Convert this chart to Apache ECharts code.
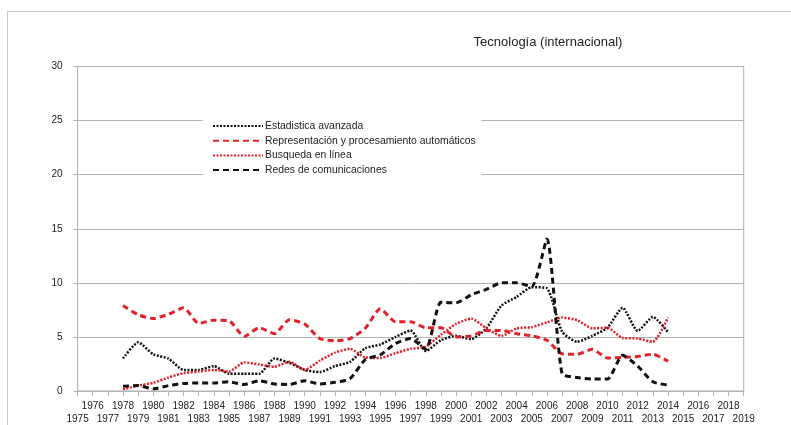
<!DOCTYPE html>
<html>
<head>
<meta charset="utf-8">
<script src="https://cdn.jsdelivr.net/npm/echarts@6/dist/echarts.min.js"></script>
<style>
  html, body { margin: 0; padding: 0; background: #fff; }
  #chart { width: 791px; height: 425px; }
</style>
</head>
<body>
<div id="chart"></div>
<script>
// axis categories (every year shown on the axis)
const axisYears = ['1975', '1976', '1977', '1978', '1979', '1980', '1981', '1982', '1983', '1984',
  '1985', '1986', '1987', '1988', '1989', '1990', '1991', '1992', '1993', '1994',
  '1995', '1996', '1997', '1998', '1999', '2000', '2001', '2002', '2003', '2004',
  '2005', '2006', '2007', '2008', '2009', '2010', '2011', '2012', '2013', '2014',
  '2015', '2016', '2017', '2018', '2019'];

// years that have data
const dataYears = ['1978', '1979', '1980', '1981', '1982', '1983', '1984', '1985', '1986', '1987',
  '1988', '1989', '1990', '1991', '1992', '1993', '1994', '1995', '1996', '1997',
  '1998', '1999', '2000', '2001', '2002', '2003', '2004', '2005', '2006', '2007',
  '2008', '2009', '2010', '2011', '2012', '2013', '2014'];

const estadistica = [3.0, 4.5, 3.4, 3.0, 1.95, 1.95, 2.3, 1.6, 1.6, 1.6,
  3.0, 2.6, 1.95, 1.75, 2.3, 2.7, 3.95, 4.3, 5.0, 5.6,
  3.7, 4.7, 5.1, 4.8, 5.8, 7.9, 8.7, 9.6, 9.5, 5.5,
  4.55, 5.1, 5.85, 7.7, 5.55, 6.85, 5.45];

const representacion = [7.9, 7.05, 6.7, 7.1, 7.7, 6.25, 6.55, 6.5, 5.05, 5.85,
  5.3, 6.6, 6.2, 4.85, 4.65, 4.85, 5.8, 7.6, 6.4, 6.4,
  5.85, 5.85, 5.0, 5.1, 5.6, 5.6, 5.3, 5.1, 4.7, 3.45,
  3.4, 3.85, 3.05, 3.1, 3.2, 3.4, 2.75];

const busqueda = [0.15, 0.5, 0.75, 1.25, 1.65, 1.8, 1.95, 1.8, 2.65, 2.45,
  2.25, 2.7, 1.95, 2.8, 3.55, 3.9, 3.1, 3.05, 3.5, 3.9,
  4.1, 5.2, 6.2, 6.7, 5.8, 5.1, 5.8, 5.9, 6.35, 6.8,
  6.55, 5.8, 5.85, 4.9, 4.85, 4.55, 6.8];

const redes = [0.45, 0.5, 0.2, 0.5, 0.7, 0.75, 0.75, 0.85, 0.6, 0.95,
  0.65, 0.6, 0.95, 0.65, 0.8, 1.15, 2.9, 3.35, 4.4, 4.85,
  3.85, 8.2, 8.15, 8.9, 9.4, 10.0, 10.0, 9.65, 14.05, 1.6,
  1.25, 1.1, 1.1, 3.3, 2.3, 0.85, 0.55];

const chart = echarts.init(document.getElementById('chart'));

const font = '"Liberation Sans", Arial, sans-serif';
const gridColor = '#b3b3b3';
const red = '#e3202a';

const pairs = (vals) => dataYears.map((y, i) => [y, vals[i]]);

const mkLine = (name, vals, color, width, dash) => ({
  name,
  type: 'line',
  data: pairs(vals),
  symbol: 'none',
  smooth: 0.2,
  lineStyle: { color, width, type: dash, cap: 'butt' },
  itemStyle: { color }
});

chart.setOption({
  animation: false,
  backgroundColor: '#fff',
  textStyle: { fontFamily: font },
  graphic: [{
    type: 'rect',
    shape: { x: 7.5, y: 11.5, width: 820, height: 440 },
    style: { fill: 'none', stroke: '#c4c4c4', lineWidth: 1 },
    silent: true,
    z: -1
  }],
  title: {
    text: 'Tecnología (internacional)',
    left: 543,
    top: 31,
    textAlign: 'center',
    textStyle: { fontFamily: font, fontSize: 13, fontWeight: 'normal', color: '#222' }
  },
  legend: {
    orient: 'vertical',
    left: 203,
    top: 115,
    padding: [6, 6, 6, 9],
    backgroundColor: '#fff',
    itemWidth: 50,
    itemHeight: 12,
    itemGap: 4.7,
    itemStyle: { opacity: 0 },
    textStyle: { fontFamily: font, fontSize: 10.4, color: '#222', padding: [0, 0, 0, -3] },
    data: ['Estadistica avanzada', 'Representación y procesamiento automáticos',
      'Busqueda en línea', 'Redes de comunicaciones']
  },
  grid: {
    left: 77.6,
    right: 47.3,
    top: 66.6,
    bottom: 32,
    show: true,
    borderColor: gridColor,
    borderWidth: 1
  },
  xAxis: {
    type: 'category',
    data: axisYears,
    boundaryGap: false,
    axisLine: { lineStyle: { color: gridColor } },
    axisTick: { show: true, interval: 0, length: 5, lineStyle: { color: gridColor } },
    axisLabel: {
      interval: 0,
      margin: 9,
      color: '#222',
      fontSize: 10,
      lineHeight: 12.5,
      formatter: (v) => (Number(v) % 2 ? '\n' + v : v)
    },
    splitLine: { show: false }
  },
  yAxis: {
    type: 'value',
    min: 0,
    max: 30,
    interval: 5,
    axisLine: { show: true, lineStyle: { color: gridColor } },
    axisTick: { show: true, length: 4, lineStyle: { color: gridColor } },
    axisLabel: { color: '#222', fontSize: 10, margin: 15 },
    splitLine: { lineStyle: { color: gridColor, width: 1 } }
  },
  series: [
    mkLine('Estadistica avanzada', estadistica, '#111', 2.5, [2, 1.5]),
    mkLine('Representación y procesamiento automáticos', representacion, red, 3, [6, 4]),
    mkLine('Busqueda en línea', busqueda, red, 2.5, [2, 1.5]),
    mkLine('Redes de comunicaciones', redes, '#111', 3, [6, 4])
  ]
});
</script>
</body>
</html>
